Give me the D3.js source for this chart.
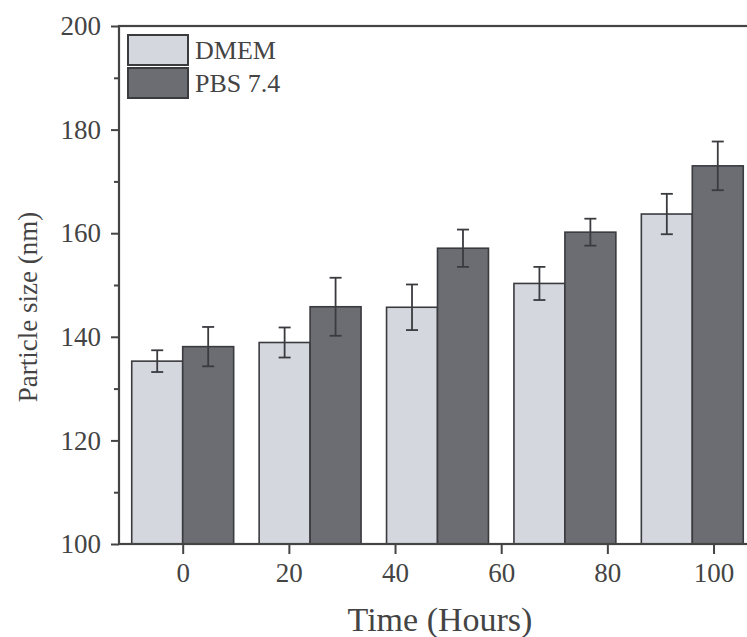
<!DOCTYPE html>
<html>
<head>
<meta charset="utf-8">
<script src="https://cdn.jsdelivr.net/npm/d3@7"></script>
<style>
  body { margin: 0; background: #fff; }
  svg { display: block; }
  text { font-family: "Liberation Serif", "DejaVu Serif", serif; fill: #444; }
</style>
</head>
<body>
<svg id="chart" width="747" height="637"></svg>
<script>
// ----------------------------
// Data
// ----------------------------
const times = [0, 24, 48, 72, 96];
const seriesNames = ["DMEM", "PBS 7.4"];
const dmemMean = [135.3, 138.9, 145.7, 150.3, 163.7];
const dmemErr = [2.1, 2.9, 4.4, 3.2, 3.9];
const pbsMean = [138.1, 145.8, 157.1, 160.2, 173.0];
const pbsErr = [3.8, 5.6, 3.6, 2.6, 4.7];
const xTicks = [0, 20, 40, 60, 80, 100];
const yTicks = [100, 120, 140, 160, 180, 200];
const yMinorTicks = [110, 130, 150, 170, 190];

const colors = ["#d5d7df", "#6b6d72"];
const barWidth = 9.6; // in hours, each bar

// ----------------------------
// Layout
// ----------------------------
const svg = d3.select("#chart");
const plotLeft = 119, plotRight = 756, plotTop = 26, plotBottom = 544;

const x = d3.scaleLinear().domain([-12, 108]).range([plotLeft, plotRight]);
const y = d3.scaleLinear().domain([100, 200]).range([plotBottom, plotTop]);

// Build rows for the bars
const rows = [];
times.forEach((t, i) => {
    rows.push({ t: t, s: 0, v: dmemMean[i], e: dmemErr[i] });
    rows.push({ t: t, s: 1, v: pbsMean[i], e: pbsErr[i] });
});
const barX0 = d => d.s === 0 ? d.t - barWidth : d.t;

// Bars
svg.append("g").selectAll("rect")
    .data(rows)
    .join("rect")
    .attr("x", d => x(barX0(d)))
    .attr("width", d => x(barX0(d) + barWidth) - x(barX0(d)))
    .attr("y", d => y(d.v))
    .attr("height", d => y(100) - y(d.v))
    .attr("fill", d => colors[d.s])
    .attr("stroke", "#3a3b3f")
    .attr("stroke-width", 1.6);

// Error bars
const eb = svg.append("g").attr("stroke", "#3a3b3f").attr("stroke-width", 1.8);
rows.forEach(d => {
    const cx = x(barX0(d) + barWidth / 2);
    eb.append("line").attr("x1", cx).attr("x2", cx).attr("y1", y(d.v + d.e)).attr("y2", y(d.v - d.e));
    eb.append("line").attr("x1", cx - 6).attr("x2", cx + 6).attr("y1", y(d.v + d.e)).attr("y2", y(d.v + d.e));
    eb.append("line").attr("x1", cx - 6).attr("x2", cx + 6).attr("y1", y(d.v - d.e)).attr("y2", y(d.v - d.e));
});

// Frame
svg.append("rect")
    .attr("x", plotLeft).attr("y", plotTop)
    .attr("width", plotRight - plotLeft).attr("height", plotBottom - plotTop)
    .attr("fill", "none").attr("stroke", "#444").attr("stroke-width", 2.2);

// ----------------------------
// Axes
// ----------------------------
svg.append("g")
    .attr("transform", `translate(${plotLeft},0)`)
    .call(d3.axisLeft(y).tickValues(yTicks).tickSize(8).tickPadding(10));
svg.append("g")
    .attr("transform", `translate(${plotLeft},0)`)
    .call(d3.axisLeft(y).tickValues(yMinorTicks).tickSize(5).tickFormat(""));

svg.append("g")
    .attr("transform", `translate(0,${plotBottom})`)
    .call(d3.axisBottom(x).tickValues(xTicks).tickSize(10).tickPadding(9));

svg.selectAll(".domain").remove();
svg.selectAll(".tick line").attr("stroke", "#444").attr("stroke-width", 2);
svg.selectAll(".tick text")
    .style("font-family", "'Liberation Serif', serif")
    .attr("font-size", 27)
    .attr("fill", "#444");

// Axis titles
svg.append("text")
    .attr("x", 440).attr("y", 631)
    .attr("text-anchor", "middle")
    .attr("font-size", 34)
    .text("Time (Hours)");

svg.append("text")
    .attr("transform", `translate(37,307) rotate(-90)`)
    .attr("text-anchor", "middle")
    .attr("font-size", 27)
    .text("Particle size (nm)");

// ----------------------------
// Legend
// ----------------------------
const legend = svg.append("g").attr("transform", "translate(128,35)");
seriesNames.forEach((name, i) => {
    legend.append("rect")
        .attr("x", 0).attr("y", i * 33)
        .attr("width", 60).attr("height", 30)
        .attr("fill", colors[i])
        .attr("stroke", "#3a3b3f").attr("stroke-width", 2);
    legend.append("text")
        .attr("x", 67).attr("y", i * 33 + 24)
        .attr("font-size", 26)
        .text(name);
});
</script>
</body>
</html>
